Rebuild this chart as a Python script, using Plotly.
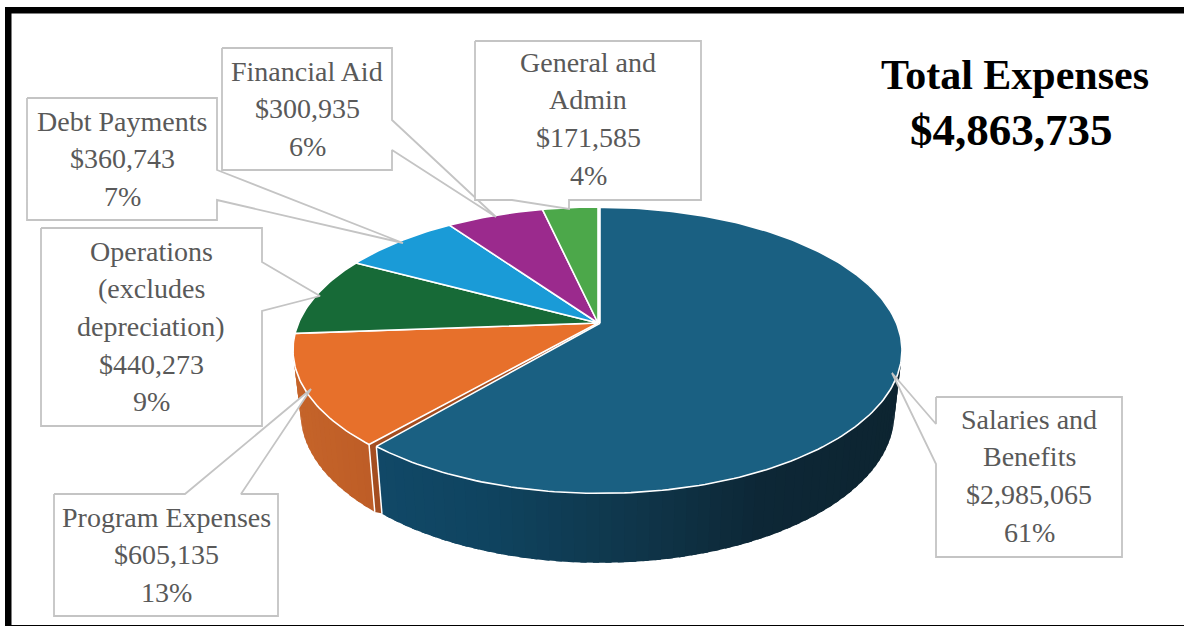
import math
import plotly.graph_objects as go

# ---- data ----
categories = ["Salaries and<br>Benefits", "Program Expenses", "Operations<br>(excludes<br>depreciation)",
              "Debt Payments", "Financial Aid", "General and<br>Admin"]
values = [2985065, 605135, 440273, 360743, 300935, 171585]
percents = ["61%", "13%", "9%", "7%", "6%", "4%"]
value_labels = ["$2,985,065", "$605,135", "$440,273", "$360,743", "$300,935", "$171,585"]
title_lines = ["Total Expenses", "$4,863,735"]

# ---- style / layout ----
top_colors = ["#1a6082", "#e7702b", "#176a37", "#1a9bd7", "#9b2a8d", "#4ca84a"]
W, H = 1184, 626
CX, CY, B, A, P = 598, 323, 299.5, 137.9, 0.189     # top face projection
CY2, B2, A2 = 385, 292, 144                         # bottom rim projection
GRID = "#c4c4c4"
FONT = "Liberation Serif"
TXT = "#595959"

# callout outlines, one per category (layout only)
callouts = [
    [(936, 397), (1122, 397), (1122, 557), (936, 557), (936, 464), (892, 373), (936, 424)],
    [(54, 494), (185, 494), (311, 389), (241, 494), (278, 494), (278, 616), (54, 616)],
    [(41, 228), (262, 228), (262, 262), (320, 296), (262, 311), (262, 426), (41, 426)],
    [(27, 98), (217, 98), (217, 170), (403, 243), (217, 200), (217, 220), (27, 220)],
    [(222, 48), (392, 48), (392, 120), (496, 217), (392, 150), (392, 170), (222, 170)],
    [(475, 41), (701, 41), (701, 200), (569, 200), (569, 209), (512, 200), (475, 200)],
]
label_pos = [(1029, 419), (166, 517), (151, 251), (122, 121), (307, 71), (588, 62)]
LINE_H = 37.7


def top_pt(th, dx=0, dy=0, s=1.0):
    X, Y = math.sin(th), math.cos(th)
    d = 1 + P * Y
    return CX + dx + s * B * X / d, CY + dy - A * Y / d


def bot_pt(th, dx=0, dy=0, s=1.0):
    X, Y = math.sin(th), math.cos(th)
    d = 1 + P * Y
    return CX + dx + s * B2 * X / d, CY2 + dy - A2 * Y / d


def lerp_hex(stops, t):
    for (t0, c0), (t1, c1) in zip(stops, stops[1:]):
        if t <= t1:
            f = max(0, (t - t0) / (t1 - t0))
            a = [int(c0[i:i + 2], 16) for i in (1, 3, 5)]
            b = [int(c1[i:i + 2], 16) for i in (1, 3, 5)]
            return "#%02x%02x%02x" % tuple(round(u + (v - u) * f) for u, v in zip(a, b))
    return stops[-1][1]


blue_side = [(300, "#124b6c"), (480, "#0f4460"), (640, "#0f3549"), (760, "#0d2736"), (920, "#0d2430")]
orange_side = [(290, "#c5642a"), (380, "#bd5c26")]

fig = go.Figure()


def poly(xs, ys, fill, line=None, width=0.0):
    fig.add_trace(go.Scatter(x=xs, y=ys, mode="lines" if width else "none", fill="toself", fillcolor=fill,
                             line=dict(color=line or fill, width=width),
                             hoverinfo="skip", showlegend=False))


def path(xs, ys, color="white", width=1.5):
    fig.add_trace(go.Scatter(x=xs, y=ys, mode="lines", line=dict(color=color, width=width),
                             hoverinfo="skip", showlegend=False))


total = sum(values)
starts, ends = [], []
acc = 0
for v in values:
    starts.append(acc / total * 2 * math.pi)
    acc += v
    ends.append(acc / total * 2 * math.pi)

BLUE_DX, BLUE_DY, BLUE_S = 2, 0.3, 0.99
BLUE_GAP = math.radians(0.75)
blue_end = ends[0] - BLUE_GAP
STEP = math.radians(2.0)


def side(th0, th1, stops, dx=0, dy=0, s=1.0):
    n = max(1, int((th1 - th0) / STEP))
    for i in range(n):
        a = th0 + (th1 - th0) * i / n
        b = th0 + (th1 - th0) * (i + 1.5) / n if i < n - 1 else th1
        p = [top_pt(a, dx, dy, s), top_pt(b, dx, dy, s), bot_pt(b, dx, dy, s), bot_pt(a, dx, dy, s)]
        col = lerp_hex(stops, (p[0][0] + p[1][0]) / 2)
        poly([q[0] for q in p] + [p[0][0]], [q[1] for q in p] + [p[0][1]], col)


# orange side + radial cut face (also shows through the gap under the top faces)
side(starts[1], ends[1], orange_side)
t0, b0 = top_pt(starts[1]), bot_pt(starts[1])
t1, b1 = top_pt(blue_end, BLUE_DX, BLUE_DY, BLUE_S), bot_pt(blue_end, BLUE_DX, BLUE_DY, BLUE_S)
poly([CX, t0[0], b0[0], b1[0] + 2, t1[0] + 2, CX + BLUE_DX],
     [CY, t0[1], b0[1], b1[1], t1[1], CY + BLUE_DY], "#a44d20")
path([t0[0], b0[0]], [t0[1], b0[1]])

# blue side
side(math.radians(60), blue_end, blue_side, BLUE_DX, BLUE_DY, BLUE_S)
path([t1[0], b1[0]], [t1[1], b1[1]])

# top faces
for i in list(range(1, len(values))) + [0]:
    a, b = starts[i], ends[i]
    dx, dy, s = (BLUE_DX, BLUE_DY, BLUE_S) if i == 0 else (0, 0, 1.0)
    if i == 0:
        b = blue_end
    n = max(2, int((b - a) / math.radians(1.0)))
    pts = [top_pt(a + (b - a) * k / n, dx, dy, s) for k in range(n + 1)]
    xs = [CX + dx] + [q[0] for q in pts] + [CX + dx]
    ys = [CY + dy] + [q[1] for q in pts] + [CY + dy]
    poly(xs, ys, top_colors[i], "white", 1.6)

# callouts
for c in callouts:
    poly([q[0] for q in c] + [c[0][0]], [q[1] for q in c] + [c[0][1]], "white", GRID, 1.8)

# labels
annotations = []
for name, val, pct, (lx, ly) in zip(categories, value_labels, percents, label_pos):
    for k, line in enumerate(name.split("<br>") + [val, pct]):
        annotations.append(dict(x=lx, y=ly + k * LINE_H, text=line, showarrow=False, xanchor="center",
                                yanchor="middle", xref="x", yref="y",
                                font=dict(family=FONT, size=28, color=TXT)))
for line, y, x, size in zip(title_lines, [75, 130], [1015, 1011], [42, 45]):
    annotations.append(dict(x=x, y=y, text=f"<b>{line}</b>", showarrow=False, xanchor="center",
                            yanchor="middle", xref="x", yref="y",
                            font=dict(family=FONT, size=size, color="#000000")))

frame = [
    dict(type="rect", x0=5, x1=W, y0=7, y1=13.5, fillcolor="#000000", line_width=0, layer="above"),
    dict(type="rect", x0=5, x1=11.5, y0=7, y1=H, fillcolor="#000000", line_width=0, layer="above"),
    dict(type="rect", x0=5, x1=W, y0=625, y1=H, fillcolor="#000000", line_width=0, layer="above"),
]

fig.update_layout(
    width=W, height=H, margin=dict(l=0, r=0, t=0, b=0),
    paper_bgcolor="white", plot_bgcolor="white", showlegend=False,
    xaxis=dict(range=[0, W], visible=False, fixedrange=True),
    yaxis=dict(range=[H, 0], visible=False, fixedrange=True),
    annotations=annotations, shapes=frame,
)
fig.write_html("out.html", post_script="document.body.style.margin='0';", config={"displayModeBar": False})
